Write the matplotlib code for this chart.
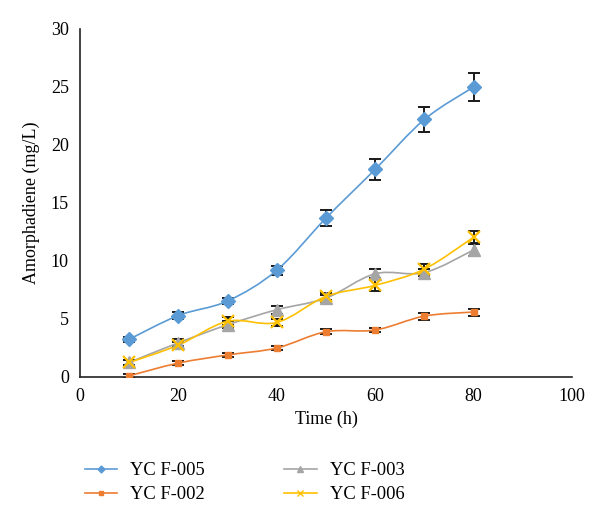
import numpy as np
import matplotlib.pyplot as plt
from matplotlib.path import Path
from matplotlib.patches import PathPatch
from matplotlib.lines import Line2D

plt.rcParams['font.family'] = ['Liberation Serif', 'DejaVu Serif']

time_h = [10, 20, 30, 40, 50, 60, 70, 80]

f005 = [3.25, 5.3, 6.55, 9.2, 13.7, 17.9, 22.2, 25.0]
f005_err = [0.2, 0.3, 0.3, 0.4, 0.7, 0.9, 1.1, 1.2]

f002 = [0.1, 1.2, 1.9, 2.5, 3.9, 4.05, 5.25, 5.6]
f002_err = [0.15, 0.15, 0.15, 0.15, 0.2, 0.2, 0.3, 0.3]

f003 = [1.25, 2.95, 4.5, 5.8, 6.8, 8.9, 9.0, 10.95]
f003_err = [0.2, 0.3, 0.3, 0.35, 0.3, 0.4, 0.3, 0.5]

f006 = [1.25, 2.75, 4.8, 4.7, 6.95, 7.9, 9.3, 12.05]
f006_err = [0.2, 0.3, 0.35, 0.3, 0.3, 0.5, 0.4, 0.5]

series = [
    ("YC F-005", f005, f005_err, "#5B9BD5", "D", 7),
    ("YC F-002", f002, f002_err, "#ED7D31", "s", 5),
    ("YC F-003", f003, f003_err, "#A5A5A5", "^", 8.5),
    ("YC F-006", f006, f006_err, "#FFC000", "x", 8),
]


def smooth_path(x, y):
    # excel-like smoothed line: catmull-rom as cubic bezier segments
    p = np.column_stack([x, y]).astype(float)
    n = len(p)
    verts = [p[0]]
    codes = [Path.MOVETO]
    for i in range(n - 1):
        p0 = p[i - 1] if i > 0 else p[i]
        p3 = p[i + 2] if i + 2 < n else p[i + 1]
        c1 = p[i] + (p[i + 1] - p0) / 6
        c2 = p[i + 1] - (p3 - p[i]) / 6
        verts += [c1, c2, p[i + 1]]
        codes += [Path.CURVE4] * 3
    return Path(verts, codes)


fig = plt.figure(figsize=(6, 5.26), dpi=100)
ax = fig.add_axes([0.1333, 0.2833, 0.82, 0.6616])

handles = []
for name, vals, err, col, mk, ms in series:
    ax.errorbar(time_h, vals, yerr=err, fmt='none', ecolor='#1a1a1a',
                elinewidth=1.4, capsize=4, capthick=1.4, zorder=2)
    ax.add_patch(PathPatch(smooth_path(time_h, vals), fill=False,
                           edgecolor=col, lw=1.2, zorder=3))
    if mk == 'x':
        ax.plot(time_h, vals, ls='none', marker=mk, ms=ms, mew=1.6,
                color=col, zorder=4)
    else:
        ax.plot(time_h, vals, ls='none', marker=mk, ms=ms,
                color=col, mec=col, zorder=4)
    handles.append(Line2D([], [], color=col, lw=1.2, marker=mk,
                          ms=ms * 0.5, mew=1.0, label=name))

ax.set_xlim(0, 100)
ax.set_ylim(0, 30)
ax.set_xticks(range(0, 101, 20))
ax.set_yticks(range(0, 31, 5))
ax.tick_params(length=0, labelsize=13, pad=8)
for s in ['top', 'right']:
    ax.spines[s].set_visible(False)
for s in ['left', 'bottom']:
    ax.spines[s].set_color('#222222')
    ax.spines[s].set_linewidth(1.2)

ax.set_xlabel("Time (h)", fontsize=13, labelpad=4)
ax.set_ylabel("Amorphadiene (mg/L)", fontsize=13, labelpad=8)

fig.legend(handles=handles, ncol=2, loc='upper left',
           bbox_to_anchor=(0.126, 0.139), frameon=False, fontsize=13.3,
           borderpad=0, handlelength=1.75, handletextpad=0.7,
           columnspacing=4.3, labelspacing=0.38)

fig.savefig("out.png", dpi=100)
